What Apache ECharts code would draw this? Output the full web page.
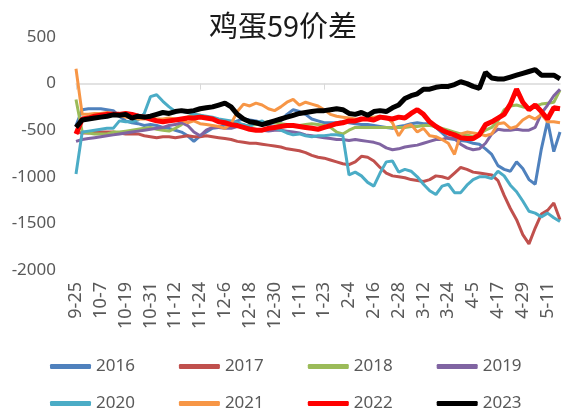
<!DOCTYPE html>
<html>
<head>
<meta charset="utf-8">
<title>鸡蛋59价差</title>
<script src="https://cdn.jsdelivr.net/npm/echarts@6/dist/echarts.min.js"></script>
<style>
  html, body { margin: 0; padding: 0; background: #fff; }
  #chartmain { width: 566px; height: 414px; }
</style>
</head>
<body>
<div id="chartmain"></div>
<script>
// 日期: 9-25 起每3天一个点 (非闰年)
const days = [];
(function () {
  let d = new Date(2021, 8, 25);
  for (let i = 0; i < 79; i++) {
    days.push((d.getMonth() + 1) + '-' + d.getDate());
    d.setDate(d.getDate() + 3);
  }
})();

const yearNames = ['2016', '2017', '2018', '2019', '2020', '2021', '2022', '2023'];
const yearColors = ['#4F81BD', '#C0504D', '#9BBB59', '#8064A2', '#4BACC6', '#F79646', '#FF0000', '#000000'];

const y2016 = [-450, -280, -270, -270, -270, -280, -290, -350, -400, -420,
  -430, -450, -440, -450, -470, -480, -500, -520, -560, -620,
  -560, -520, -480, -470, -440, -430, -400, -380, -390, -400,
  -420, -430, -420, -400, -330, -280, -300, -330, -380, -400,
  -420, -420, -420, -410, -420, -430, -440, -440, -450, -460,
  -470, -480, -460, -450, -430, -420, -430, -430, -470, -530,
  -590, -600, -610, -620, -640, -650, -700, -760, -880, -920,
  -940, -840, -910, -1030, -1080, -700, -400, -730, -520];
const y2017 = [-520, -530, -530, -520, -520, -520, -520, -530, -540, -540,
  -540, -560, -570, -580, -570, -570, -580, -570, -560, -570,
  -570, -560, -570, -580, -590, -600, -620, -630, -640, -640,
  -650, -660, -670, -680, -700, -710, -720, -740, -770, -790,
  -800, -820, -840, -860, -870, -840, -780, -790, -830, -900,
  -960, -990, -1000, -1010, -1030, -1040, -1050, -1030, -990, -1000,
  -1020, -960, -900, -920, -950, -960, -970, -980, -1040, -1200,
  -1340, -1460, -1620, -1720, -1550, -1400, -1360, -1280, -1460];
const y2018 = [-170, -520, -530, -540, -540, -540, -520, -520, -510, -500,
  -490, -480, -470, -490, -500, -510, -480, -440, -360, -330,
  -340, -360, -380, -400, -410, -430, -440, -450, -450, -440,
  -420, -410, -420, -430, -440, -450, -450, -440, -430, -440,
  -450, -470, -520, -540, -500, -470, -470, -470, -470, -470,
  -470, -470, -470, -470, -460, -460, -450, -450, -460, -480,
  -500, -520, -540, -550, -570, -540, -500, -470, -400, -280,
  -240, -230, -250, -260, -240, -220, -210, -200, -70];
const y2019 = [-620, -600, -590, -580, -570, -560, -550, -540, -530, -520,
  -510, -500, -490, -480, -470, -450, -440, -420, -450, -520,
  -560, -500, -470, -470, -480, -480, -460, -440, -480, -490,
  -500, -510, -500, -500, -510, -520, -530, -550, -560, -570,
  -580, -590, -600, -600, -610, -600, -610, -620, -630, -650,
  -690, -710, -700, -680, -670, -660, -640, -620, -600, -600,
  -580, -590, -650, -690, -710, -700, -640, -540, -490, -500,
  -500, -490, -500, -500, -470, -320, -230, -130, -60];
const y2020 = [-970, -520, -510, -500, -490, -480, -480, -400, -410, -410,
  -390, -320, -140, -120, -190, -250, -300, -300, -310, -330,
  -340, -350, -360, -380, -390, -400, -420, -440, -460, -420,
  -400, -450, -480, -500, -530, -550, -540, -560, -570, -560,
  -560, -550, -550, -560, -980, -950, -990, -1060, -1100, -960,
  -840, -830, -950, -920, -940, -1000, -1080, -1150, -1190, -1100,
  -1080, -1170, -1170, -1090, -1030, -1000, -1000, -1020, -940, -990,
  -1090, -1160, -1260, -1370, -1390, -1430, -1390, -1440, -1480];
const y2021 = [160, -330, -330, -320, -320, -310, -320, -340, -360, -360,
  -380, -380, -370, -380, -380, -370, -380, -390, -420, -400,
  -430, -440, -450, -460, -480, -430, -300, -220, -240, -210,
  -230, -270, -290, -250, -200, -170, -230, -200, -220, -240,
  -280, -330, -350, -360, -370, -380, -390, -370, -360, -350,
  -360, -420, -560, -460, -440, -520, -480, -560, -570, -600,
  -640, -760, -540, -520, -530, -540, -560, -540, -430, -420,
  -480, -460, -390, -350, -380, -330, -410, -410, -420];
const y2022 = [-540, -380, -370, -350, -340, -330, -330, -330, -320, -330,
  -350, -360, -380, -400, -410, -400, -390, -380, -370, -370,
  -360, -370, -380, -410, -420, -440, -450, -470, -490, -500,
  -500, -480, -470, -460, -450, -450, -460, -470, -480, -490,
  -470, -450, -430, -420, -400, -400, -380, -380, -390, -360,
  -370, -380, -360, -370, -320, -280, -330, -410, -460, -500,
  -530, -550, -580, -590, -590, -550, -440, -410, -370, -330,
  -220, -60, -200, -280, -230, -300, -380, -260, -270];
const y2023 = [-470, -390, -380, -370, -360, -350, -335, -340, -330, -370,
  -350, -360, -350, -330, -310, -320, -300, -290, -300, -290,
  -270, -260, -250, -230, -210, -250, -330, -380, -410, -420,
  -440, -420, -400, -380, -360, -340, -320, -310, -300, -290,
  -290, -280, -270, -280, -320, -330, -310, -340, -300, -290,
  -300, -260, -230, -160, -130, -110, -60, -60, -40, -30,
  -30, -10, 20, 0, -30, -50, 120, 60, 50, 50,
  70, 90, 110, 130, 150, 90, 90, 90, 50];

const yearData = [y2016, y2017, y2018, y2019, y2020, y2021, y2022, y2023];
const yTicks = { min: -2000, max: 500, step: 500 };

const chartmain = echarts.init(document.getElementById('chartmain'));

const series = yearNames.map((name, k) => ({
  name: name,
  type: 'line',
  xAxisIndex: 0,
  data: yearData[k],
  showSymbol: false,
  symbol: 'none',
  lineStyle: { width: k >= 6 ? 5 : 3, color: yearColors[k] },
  itemStyle: { color: yearColors[k] },
  z: 2 + k
}));

const legendCommon = {
  left: 50,
  padding: 0,
  icon: 'roundRect',
  itemWidth: 41,
  itemHeight: 5,
  itemGap: 44,
  textStyle: { fontSize: 17, color: '#595959', width: 40, fontFamily: 'Noto Sans' }
};

let option = {
  animation: false,
  textStyle: { fontFamily: 'Noto Sans' },
  title: {
    text: '鸡蛋59价差',
    left: 'center',
    top: 6,
    textStyle: { fontSize: 29, fontWeight: 'normal', color: '#1a1a1a', fontFamily: 'Noto Sans CJK SC' }
  },
  color: yearColors,
  legend: [
    Object.assign({}, legendCommon, { top: 358, data: yearNames.slice(0, 4) }),
    Object.assign({}, legendCommon, { top: 395, data: yearNames.slice(4) })
  ],
  grid: { left: 76, right: 6, top: 37, bottom: 144 },
  xAxis: [
    {
      // 底部日期标签
      type: 'category',
      data: days,
      boundaryGap: false,
      position: 'bottom',
      axisLine: { show: false, onZero: false },
      axisTick: { show: false },
      axisLabel: { rotate: 90, interval: 3, fontSize: 18, color: '#595959', margin: 12 }
    },
    {
      // 0 轴线
      type: 'category',
      data: days,
      boundaryGap: false,
      position: 'top',
      axisLine: { show: true, onZero: true, lineStyle: { color: '#d9d9d9', width: 1.5 } },
      axisTick: { show: true, inside: true, interval: 19, length: 6, lineStyle: { color: '#d9d9d9' } },
      axisLabel: { show: false }
    }
  ],
  yAxis: {
    type: 'value',
    min: yTicks.min,
    max: yTicks.max,
    interval: yTicks.step,
    axisLine: { show: false },
    axisTick: { show: false },
    splitLine: { show: false },
    axisLabel: { fontSize: 17, color: '#595959', margin: 20, formatter: v => String(v) }
  },
  series: series
};

chartmain.setOption(option);
</script>
</body>
</html>
